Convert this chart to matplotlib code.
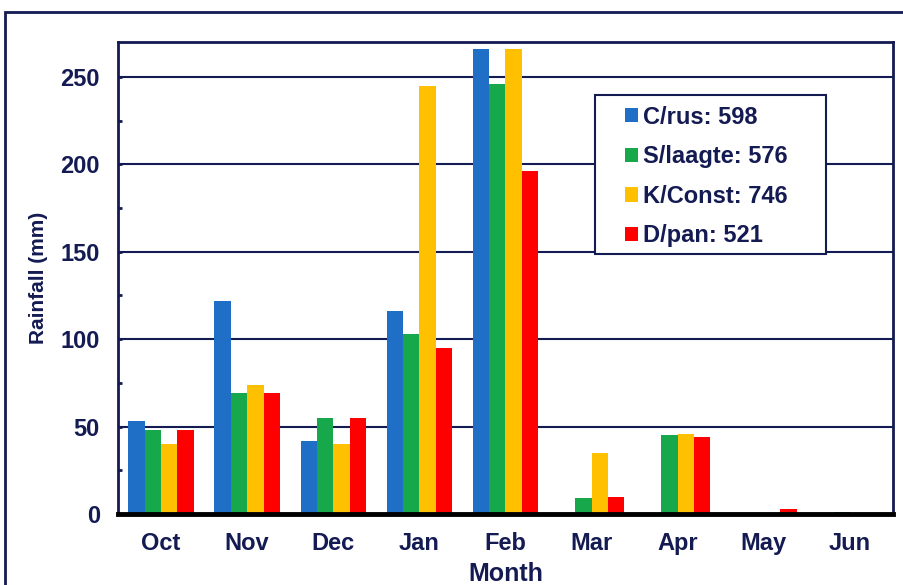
import numpy as np
import matplotlib.pyplot as plt
from matplotlib.patches import Rectangle

plt.rcParams['font.family'] = ['Liberation Sans', 'DejaVu Sans']
plt.rcParams['font.weight'] = 'bold'
plt.rcParams['axes.labelweight'] = 'bold'

months = ['Oct', 'Nov', 'Dec', 'Jan', 'Feb', 'Mar', 'Apr', 'May', 'Jun']
crus = [53, 122, 42, 116, 266, 0, 0, 0, 0]
slaagte = [48, 69, 55, 103, 246, 9, 45, 0, 1]
kconst = [40, 74, 40, 245, 266, 35, 46, 0, 0]
dpan = [48, 69, 55, 95, 196, 10, 44, 3, 0]
labels = ['C/rus: 598', 'S/laagte: 576', 'K/Const: 746', 'D/pan: 521']
colors = ['#1f6fc6', '#16a84a', '#ffc000', '#ff0000']

navy = '#141a52'

fig = plt.figure(figsize=(9.04, 5.85), dpi=100)
fig.patches.append(Rectangle((5 / 904, -0.05), 1.1, (585 - 12) / 585 + 0.05,
                             transform=fig.transFigure, fill=False,
                             edgecolor=navy, linewidth=2))
ax = fig.add_axes([118 / 904, 71 / 585, 775 / 904, 472 / 585])

x = np.arange(len(months))
w = 0.19
for i, (vals, c, lab) in enumerate(zip([crus, slaagte, kconst, dpan], colors, labels)):
    ax.bar(x + (i - 1.5) * w, vals, width=w, color=c, label=lab, zorder=3)

ax.set_xlim(-0.5, 8.5)
ax.set_ylim(0, 270)
ax.set_yticks([0, 50, 100, 150, 200, 250])
ax.set_yticks([25, 75, 125, 175, 225], minor=True)
ax.set_xticks(x)
ax.set_xticklabels(months)
ax.grid(axis='y', color=navy, linewidth=1.5, zorder=1)
ax.tick_params(axis='x', length=0, pad=13, labelsize=17, labelcolor=navy)
ax.tick_params(axis='y', which='major', direction='in', length=3, width=2,
               color=navy, labelsize=17, labelcolor=navy, pad=13)
ax.tick_params(axis='y', which='minor', direction='in', length=3, width=2, color=navy)

for s in ['top', 'right', 'left']:
    ax.spines[s].set_color(navy)
    ax.spines[s].set_linewidth(2)
ax.spines['bottom'].set_color('black')
ax.spines['bottom'].set_linewidth(3.5)
ax.spines['bottom'].set_zorder(4)

ax.set_xlabel('Month', fontsize=18, color=navy, labelpad=5)
ax.set_ylabel('Rainfall (mm)', fontsize=15, color=navy, labelpad=9)

# legend box drawn separately so the padding can be wider than tall
ax.add_patch(Rectangle((0.6155, 0.551), 0.298, 0.337, transform=ax.transAxes,
                       facecolor='white', edgecolor=navy, linewidth=1.5, zorder=5))
leg = ax.legend(loc='upper left', bbox_to_anchor=(0.654, 0.865), fontsize=17,
                frameon=False, handlelength=0.55, handleheight=0.55,
                handletextpad=0.2, labelspacing=0.7, borderpad=0,
                borderaxespad=0, labelcolor=navy)
leg.set_zorder(6)

fig.savefig('out.png', dpi=100)
